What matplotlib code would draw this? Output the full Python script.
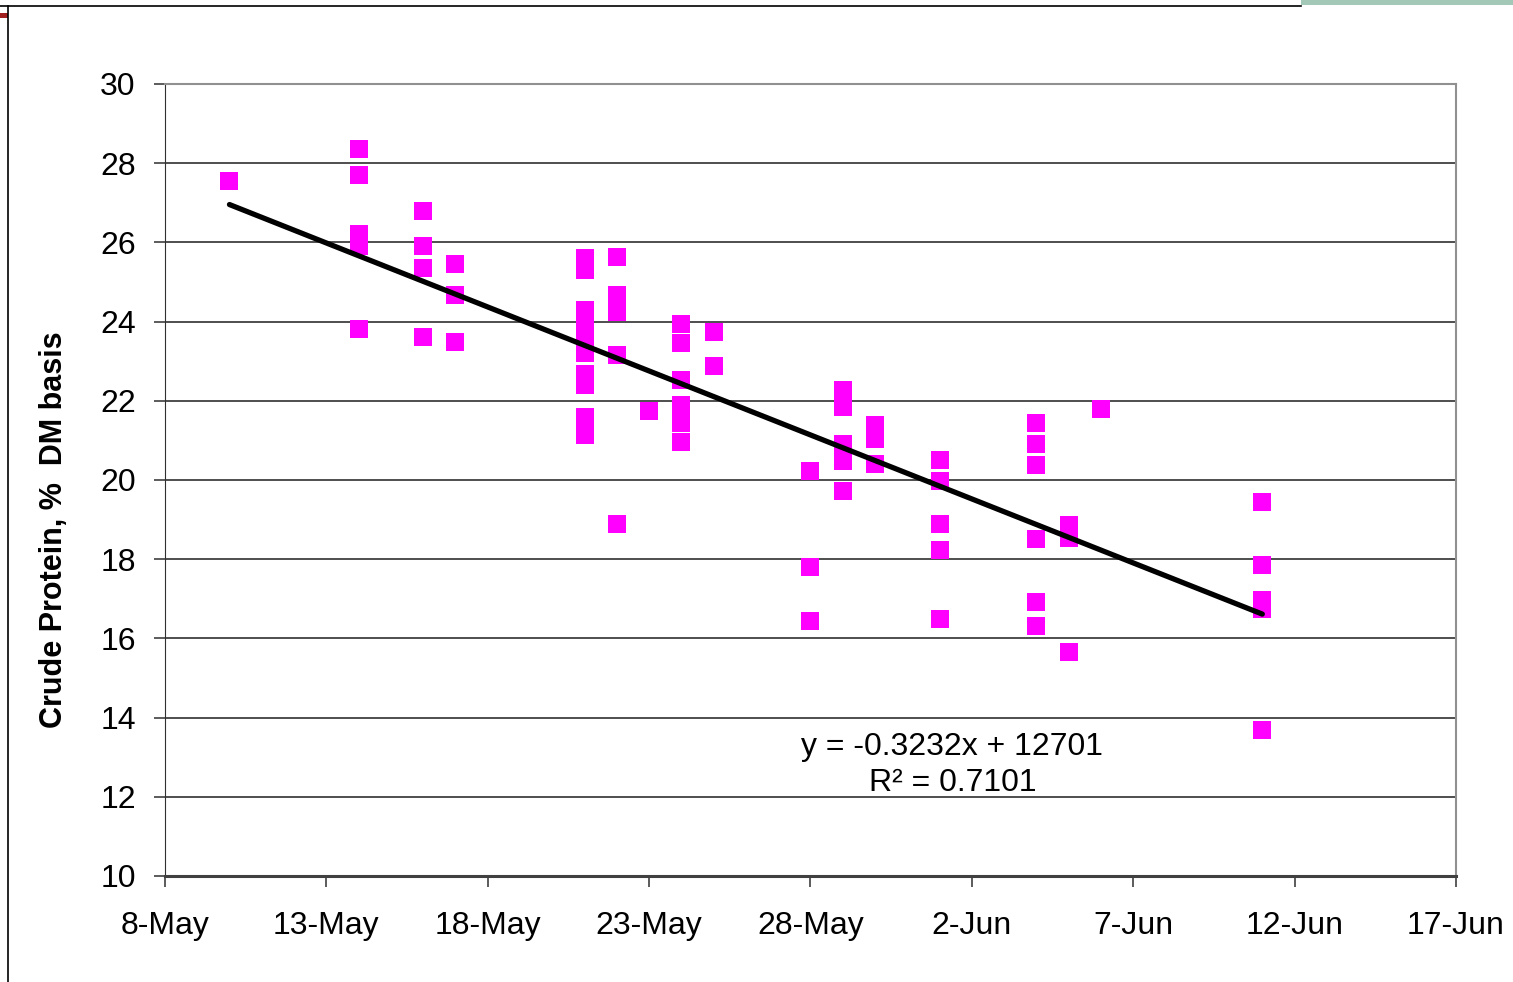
import datetime as dt

import numpy as np
import matplotlib
matplotlib.use("Agg")
import matplotlib.pyplot as plt
import matplotlib.dates as mdates
from matplotlib.lines import Line2D
from matplotlib.patches import Rectangle

# sampling dates and crude protein readings (% DM)
dates = (["10-May"] * 1 + ["14-May"] * 6 + ["16-May"] * 4 + ["17-May"] * 3
         + ["21-May"] * 10 + ["22-May"] * 5 + ["23-May"] * 1 + ["24-May"] * 6
         + ["25-May"] * 2 + ["28-May"] * 3 + ["29-May"] * 5 + ["30-May"] * 3
         + ["1-Jun"] * 5 + ["4-Jun"] * 6 + ["5-Jun"] * 3 + ["6-Jun"] * 1
         + ["11-Jun"] * 5)
protein = [27.55,
           28.35, 27.7, 26.2, 25.9, 25.9, 23.8,
           26.8, 25.9, 25.35, 23.6,
           25.45, 24.67, 23.48,
           25.6, 25.3, 24.3, 24.05, 23.66, 23.2, 22.68, 22.4, 21.6, 21.14,
           25.63, 24.67, 24.24, 23.16, 18.89,
           21.74,
           23.94, 23.46, 22.53, 21.9, 21.44, 20.96,
           23.74, 22.88,
           20.23, 17.8, 16.44,
           22.27, 21.84, 20.9, 20.48, 19.72,
           21.39, 21.04, 20.4,
           20.5, 19.97, 18.9, 18.23, 16.5,
           21.44, 20.9, 20.38, 18.5, 16.92, 16.3,
           18.86, 18.54, 15.66,
           21.8,
           19.44, 17.85, 16.97, 16.74, 13.69]
slope = -0.3232  # per day, from the trendline label
fit_text = ["y = -0.3232x + 12701", "R\u00b2 = 0.7101"]
ylabel = "Crude Protein, %  DM basis"

x = mdates.date2num([dt.datetime.strptime(d + "-2007", "%d-%b-%Y") for d in dates])
y = np.array(protein)

plt.rcParams['font.family'] = ['Liberation Sans', 'DejaVu Sans']

fig = plt.figure(figsize=(15.13, 9.82), dpi=100)
ax = fig.add_axes([0.109, 0.108, 0.8533, 0.8065])

ax.scatter(x, y, marker="s", s=12.5 ** 2, color="#ff00ff", linewidths=0, zorder=3)

# trend line: published slope, passing through the mean of the points
xl = np.array([x.min(), x.max()])
ax.plot(xl, y.mean() + slope * (xl - x.mean()), color="black", lw=3.8,
        solid_capstyle="round", zorder=4)

x0 = mdates.date2num(dt.datetime(2007, 5, 8))
ax.set_xlim(x0, x0 + 40)
ax.set_xticks(x0 + np.arange(0, 41, 5))
ax.xaxis.set_major_formatter(plt.FuncFormatter(
    lambda v, p: "{}-{}".format(mdates.num2date(v).day, mdates.num2date(v).strftime("%b"))))
ax.set_ylim(10, 30)
ax.set_yticks(np.arange(10, 31, 2))

ax.grid(axis="y", color="#303030", lw=1.2)
ax.set_axisbelow(True)
for s in ["top", "right"]:
    ax.spines[s].set_color("#909090")
    ax.spines[s].set_linewidth(1.5)
ax.spines["left"].set_color("#303030")
ax.spines["bottom"].set_color("#404040")
ax.spines["bottom"].set_linewidth(2.2)
ax.tick_params(axis="both", labelsize=23, length=8, width=1.2, color="#404040")
ax.tick_params(axis="y", pad=13)
ax.tick_params(axis="x", pad=17)

ax.set_ylabel(ylabel, fontsize=22, fontweight="bold")
ax.yaxis.set_label_coords(-0.074, 0.437)

ax.text(x0 + 24.4, 13.25, fit_text[0], fontsize=23, ha="center", va="center")
ax.text(x0 + 24.4, 12.35, fit_text[1], fontsize=23, ha="center", va="center")

# slide frame remnants from the screenshot
fig.add_artist(Line2D([0, 0.86], [0.994, 0.994], color="black", lw=1.2))
fig.add_artist(Line2D([0.0055, 0.0055], [0, 0.994], color="black", lw=1.2))
fig.add_artist(Rectangle((0.86, 0.995), 0.14, 0.005, color="#a4c8b8", lw=0))
fig.add_artist(Rectangle((0, 0.982), 0.005, 0.005, color="#a02020", lw=0))

fig.savefig("out.png", dpi=100)
